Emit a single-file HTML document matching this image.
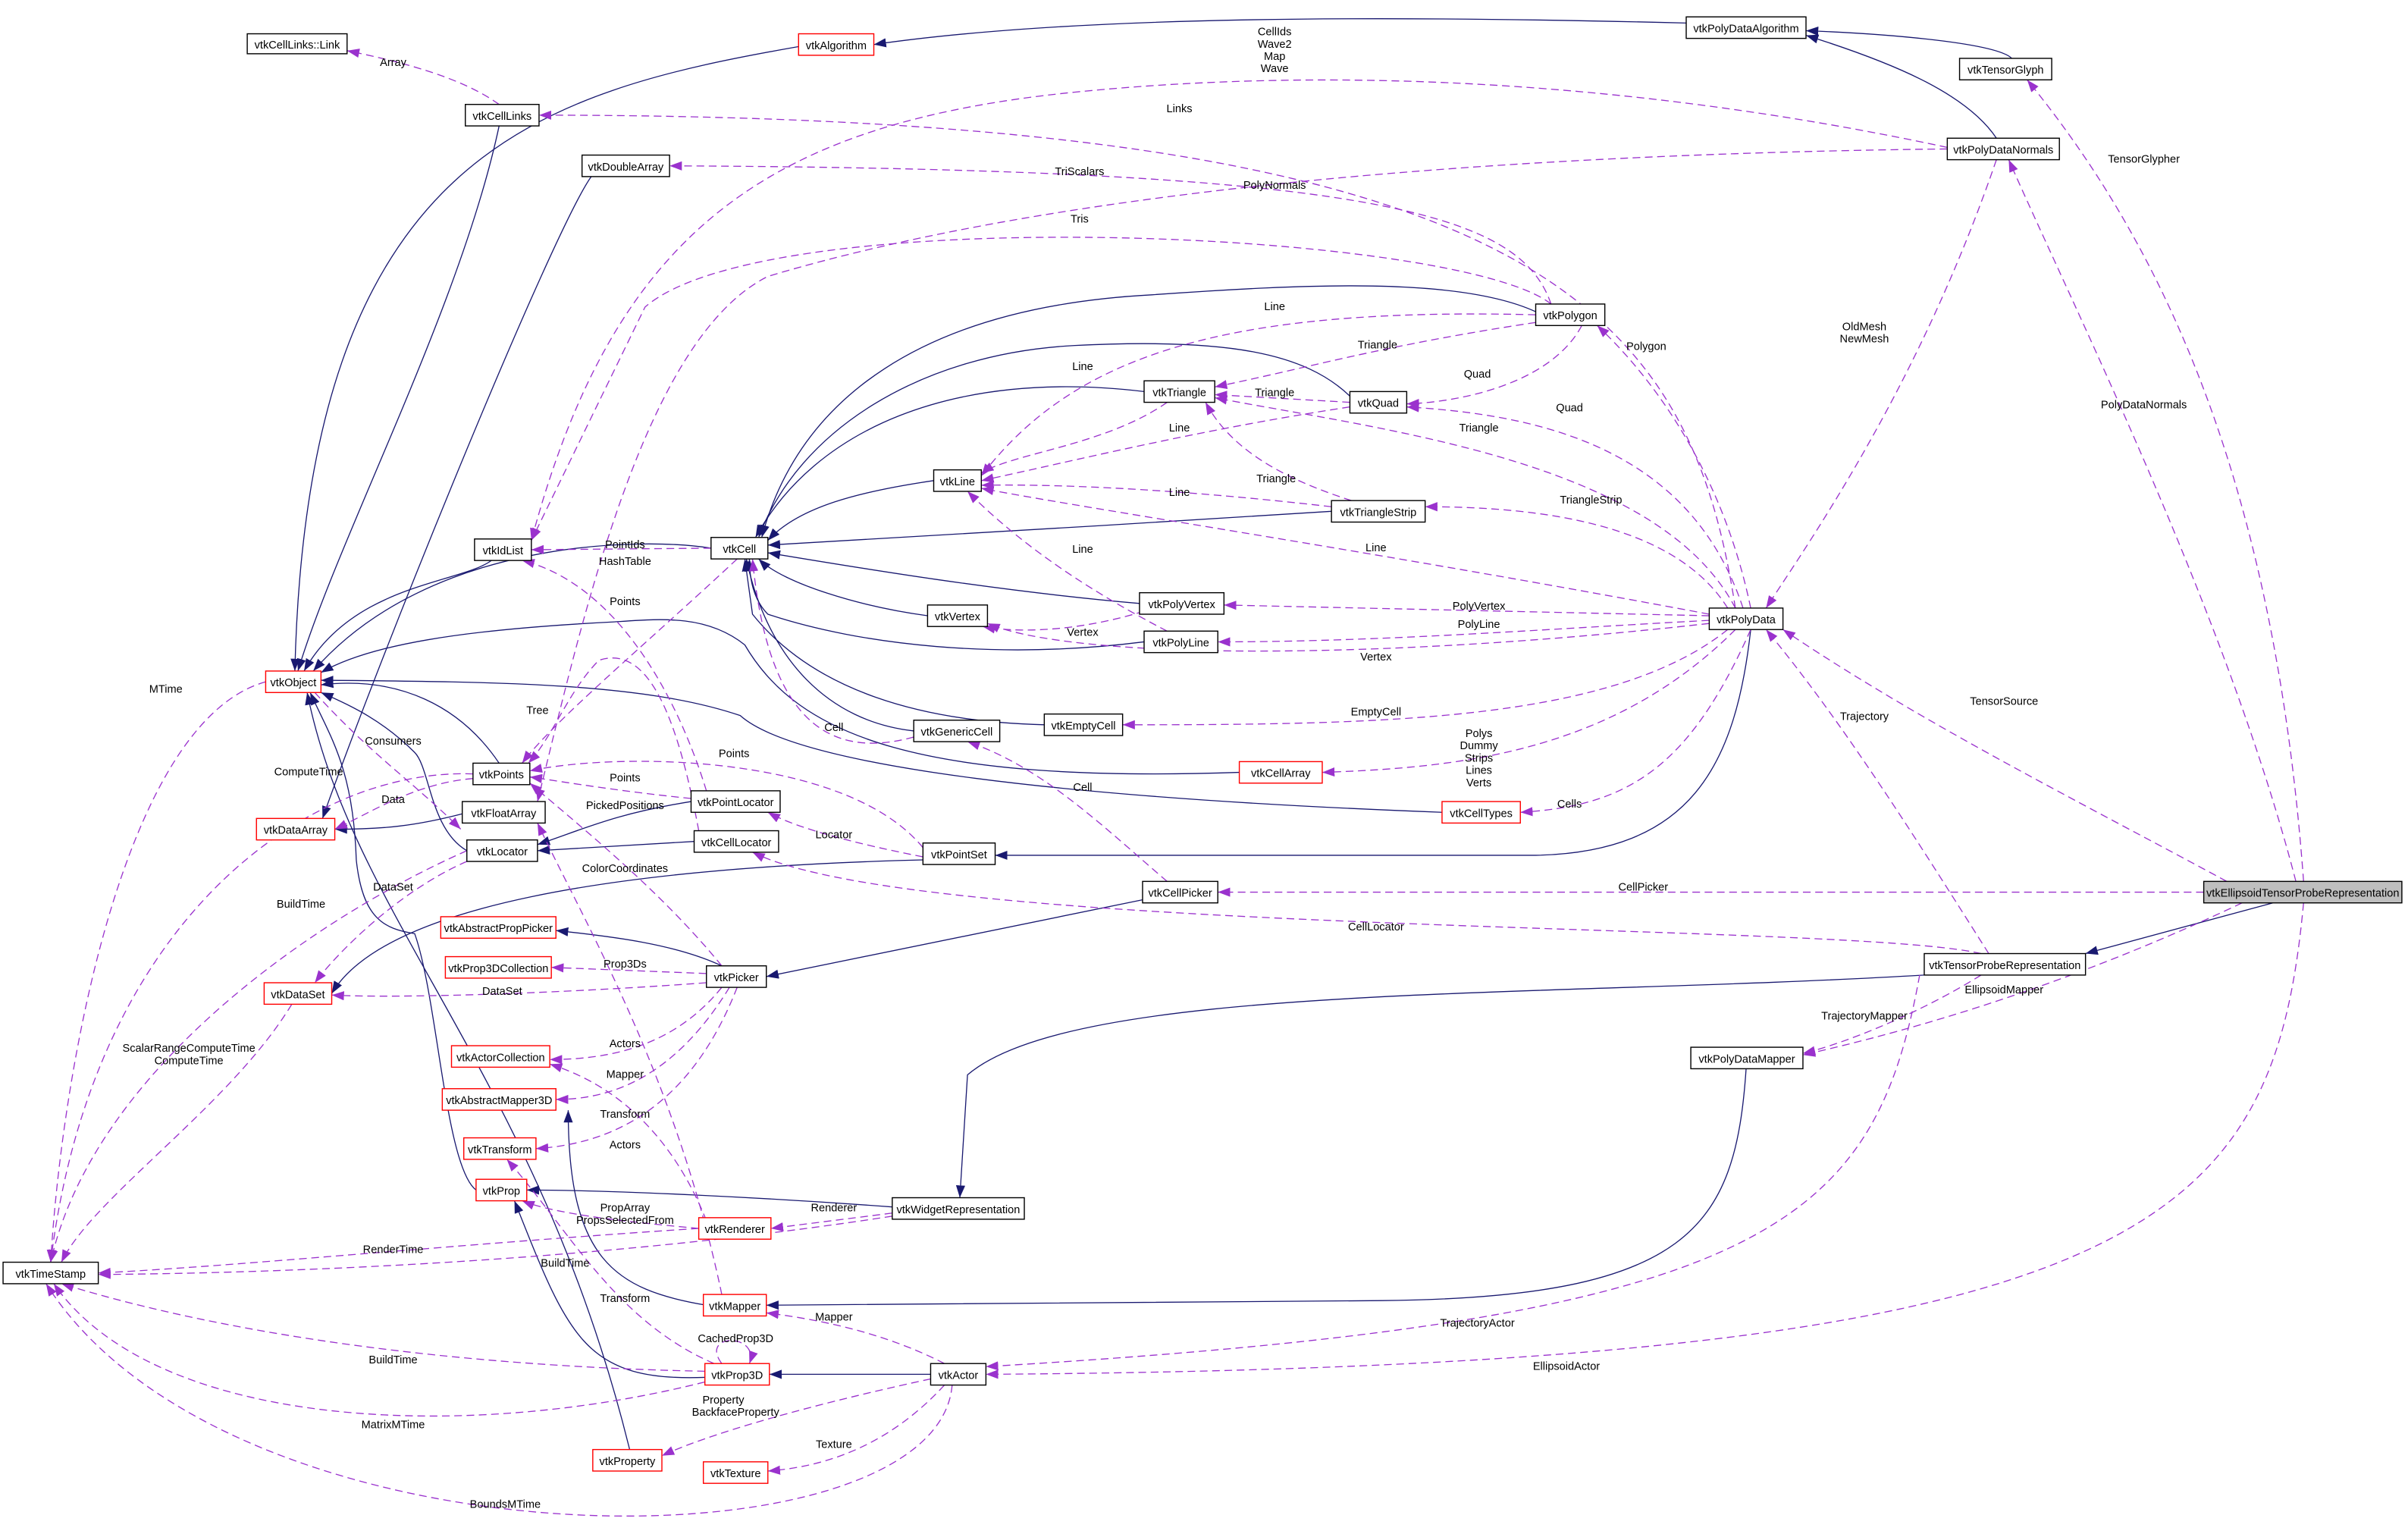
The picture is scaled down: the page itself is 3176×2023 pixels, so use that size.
<!DOCTYPE html>
<html><head><meta charset="utf-8"><style>
html,body{margin:0;padding:0;background:#fff}
svg{display:block}
text{font-family:"Liberation Sans",sans-serif;font-size:7.2px;fill:#000}
.n{fill:#fff;stroke:#000;stroke-width:0.7}
.r{fill:#fff;stroke:#f00;stroke-width:0.7}
.g{fill:#bfbfbf;stroke:#000;stroke-width:0.7}
.i{fill:none;stroke:#191970;stroke-width:0.65;marker-end:url(#ai)}
.u{fill:none;stroke:#9a32cd;stroke-width:0.65;stroke-dasharray:5,3;marker-end:url(#au)}
</style></head><body>
<svg xmlns="http://www.w3.org/2000/svg" width="3176" height="2023" viewBox="0 0 1568 999" preserveAspectRatio="none">
<defs>
<marker id="ai" markerUnits="userSpaceOnUse" markerWidth="9" markerHeight="7" refX="8" refY="3" orient="auto"><path d="M0,0 L8,3 L0,6 z" fill="#191970"/></marker>
<marker id="au" markerUnits="userSpaceOnUse" markerWidth="9" markerHeight="7" refX="8" refY="3" orient="auto"><path d="M0,0 L8,3 L0,6 z" fill="#9a32cd"/></marker>
</defs>
<rect width="1568" height="999" fill="#fff"/>
<!-- inheritance -->
<path class="i" d="M1098,15 C900,10 700,10 569,29"/>
<path class="i" d="M1310,38 C1300,28 1230,22 1176,20"/>
<path class="i" d="M1300,90 C1280,60 1230,40 1176,23"/>
<path class="i" d="M522,30 C350,60 200,100 192,437"/>
<path class="i" d="M325,82 C300,200 220,350 194,437"/>
<path class="i" d="M385,115 C360,150 250,420 210,533"/>
<path class="i" d="M320,365 C300,380 230,380 198,437"/>
<path class="i" d="M463,357 C420,350 280,350 204,437"/>
<path class="i" d="M325,497 C300,460 260,440 209,446"/>
<path class="i" d="M304,554 C280,540 280,500 270,490 C250,470 230,460 209,451"/>
<path class="i" d="M807,503 C600,510 520,480 485,420 C460,400 430,403 400,405 C300,410 240,420 209,438"/>
<path class="i" d="M939,529 C700,520 520,500 482,466 C420,445 330,444 209,443"/>
<path class="i" d="M310,775 C290,760 285,650 270,608 C250,605 236,598 232,560 C230,500 215,480 202,451"/>
<path class="i" d="M410,944 C350,700 230,600 200,451"/>
<path class="i" d="M301,530 C270,538 250,540 218,540"/>
<path class="i" d="M450,522 C400,530 380,540 350,550"/>
<path class="i" d="M452,548 L350,554"/>
<path class="i" d="M745,255 C620,240 530,280 492,350"/>
<path class="i" d="M879,258 C850,230 800,220 700,225 C600,230 520,280 494,350"/>
<path class="i" d="M1000,203 C950,180 850,185 750,192 C600,200 520,260 496,350"/>
<path class="i" d="M608,313 C560,320 520,330 500,352"/>
<path class="i" d="M867,333 C750,340 600,350 500,355"/>
<path class="i" d="M742,393 C650,385 560,370 500,360"/>
<path class="i" d="M604,401 C560,395 510,380 494,364"/>
<path class="i" d="M745,418 C650,430 560,420 500,400 C490,390 488,375 488,364"/>
<path class="i" d="M595,476 C540,470 500,430 486,364"/>
<path class="i" d="M680,472 C600,470 530,450 490,400 L485,364"/>
<path class="i" d="M1140,410 C1130,500 1100,555 1000,557 L648,557"/>
<path class="i" d="M601,560 C400,565 250,590 216,647"/>
<path class="i" d="M744,586 L499,636"/>
<path class="i" d="M470,629 C440,615 400,610 362,606"/>
<path class="i" d="M1480,588 L1358,621"/>
<path class="i" d="M1253,635 C1000,650 700,640 630,700 L625,780"/>
<path class="i" d="M581,786 C500,780 400,775 343,775"/>
<path class="i" d="M460,850 C400,840 370,820 370,723"/>
<path class="i" d="M459,897 C380,900 370,870 335,782"/>
<path class="i" d="M606,895 L501,895"/>
<path class="i" d="M1137,696 C1130,800 1100,845 900,847 L499,850"/>
<!-- usage -->
<path class="u" d="M325,68 C300,50 260,40 226,33"/>
<path class="u" d="M1268,96 C1100,60 900,40 700,60 C500,80 400,150 346,352"/>
<path class="u" d="M1130,396 C1100,200 1000,75 351,75"/>
<path class="u" d="M1010,198 C990,140 900,110 436,108"/>
<path class="u" d="M1268,97 C1000,100 700,120 500,180 C420,220 380,400 350,522"/>
<path class="u" d="M1010,198 C950,150 500,130 420,200 L346,352"/>
<path class="u" d="M1000,205 C800,200 700,230 639,310"/>
<path class="u" d="M1000,210 C900,225 850,240 791,252"/>
<path class="u" d="M1030,212 C1010,250 950,262 916,263"/>
<path class="u" d="M879,262 L791,257"/>
<path class="u" d="M879,265 C780,280 700,300 639,313"/>
<path class="u" d="M760,262 C720,290 660,295 639,308"/>
<path class="u" d="M880,326 C830,310 800,290 785,262"/>
<path class="u" d="M867,330 C780,320 700,315 639,316"/>
<path class="u" d="M760,411 C700,380 660,350 630,320"/>
<path class="u" d="M745,398 C700,412 660,412 640,408"/>
<path class="u" d="M463,357 L346,358"/>
<path class="u" d="M480,364 C420,420 360,470 340,497"/>
<path class="u" d="M460,515 C440,450 400,380 340,365"/>
<path class="u" d="M1140,396 C1120,300 1070,240 1040,212"/>
<path class="u" d="M1135,396 C1100,290 1000,270 916,265"/>
<path class="u" d="M1130,396 C1080,300 900,280 791,259"/>
<path class="u" d="M1125,396 C1090,340 1000,330 928,330"/>
<path class="u" d="M1113,400 C900,360 700,330 639,318"/>
<path class="u" d="M1113,401 L797,394"/>
<path class="u" d="M1113,404 C1000,410 900,418 793,418"/>
<path class="u" d="M1113,406 C900,430 700,430 643,406"/>
<path class="u" d="M1125,410 C1050,470 900,472 731,472"/>
<path class="u" d="M1130,410 C1050,490 950,500 861,503"/>
<path class="u" d="M1140,410 C1100,500 1060,525 990,529"/>
<path class="u" d="M1300,104 C1250,250 1180,350 1150,396"/>
<path class="u" d="M1500,574 C1480,300 1400,150 1320,52"/>
<path class="u" d="M1495,574 C1450,400 1350,200 1308,104"/>
<path class="u" d="M1450,574 C1350,520 1250,470 1161,410"/>
<path class="u" d="M1435,581 L793,581"/>
<path class="u" d="M1460,588 C1350,640 1250,670 1174,687"/>
<path class="u" d="M1500,588 C1480,800 1400,890 642,895"/>
<path class="u" d="M1295,621 C1250,550 1200,470 1150,410"/>
<path class="u" d="M1290,621 C1200,600 600,610 490,555"/>
<path class="u" d="M1290,635 C1250,660 1200,680 1174,686"/>
<path class="u" d="M1250,635 C1220,800 1150,860 642,890"/>
<path class="u" d="M595,480 C540,495 500,470 490,364"/>
<path class="u" d="M760,574 C720,540 680,500 630,483"/>
<path class="u" d="M601,552 C550,490 400,490 345,502"/>
<path class="u" d="M450,520 C400,515 360,508 345,506"/>
<path class="u" d="M601,558 C560,550 520,540 500,529"/>
<path class="u" d="M470,629 C430,580 380,540 345,510"/>
<path class="u" d="M470,843 C440,700 380,600 350,536"/>
<path class="u" d="M455,541 C440,460 420,420 390,430 C370,450 360,480 344,497"/>
<path class="u" d="M304,561 C260,580 220,620 205,640"/>
<path class="u" d="M308,507 C270,510 240,530 218,540"/>
<path class="u" d="M173,444 C80,470 40,700 33,822"/>
<path class="u" d="M308,504 C200,500 60,600 33,822"/>
<path class="u" d="M304,554 C200,600 60,700 33,822"/>
<path class="u" d="M190,654 C150,720 60,780 40,822"/>
<path class="u" d="M205,451 C240,490 270,510 300,540"/>
<path class="u" d="M455,800 C300,810 150,825 64,829"/>
<path class="u" d="M581,792 C400,820 200,829 64,830"/>
<path class="u" d="M459,893 C300,890 150,870 40,836"/>
<path class="u" d="M459,900 C300,940 100,930 35,836"/>
<path class="u" d="M620,902 C610,1025 150,1025 30,836"/>
<path class="u" d="M460,634 L359,630"/>
<path class="u" d="M460,640 C350,648 250,650 216,648"/>
<path class="u" d="M470,643 C440,680 400,690 358,690"/>
<path class="u" d="M475,643 C440,700 400,716 362,716"/>
<path class="u" d="M480,643 C450,720 400,745 349,748"/>
<path class="u" d="M460,795 C430,720 380,700 358,693"/>
<path class="u" d="M455,800 C400,795 360,790 340,782"/>
<path class="u" d="M581,790 L502,800"/>
<path class="u" d="M615,888 C580,870 540,860 499,855"/>
<path class="u" d="M465,888 C400,860 370,800 330,755"/>
<path class="u" d="M470,888 C455,868 495,868 488,888"/>
<path class="u" d="M606,898 C550,910 470,930 431,948"/>
<path class="u" d="M615,902 C580,940 540,955 500,958"/>
<!-- nodes -->
<g>
<rect class="n" x="161" y="22" width="65" height="13"/><text x="193.5" y="31.5" text-anchor="middle">vtkCellLinks::Link</text>
<rect class="r" x="520" y="22" width="49" height="14"/><text x="544.5" y="32" text-anchor="middle">vtkAlgorithm</text>
<rect class="n" x="1098" y="11" width="78" height="14"/><text x="1137" y="21" text-anchor="middle">vtkPolyDataAlgorithm</text>
<rect class="n" x="1276" y="38" width="60" height="14"/><text x="1306" y="48" text-anchor="middle">vtkTensorGlyph</text>
<rect class="n" x="303" y="68" width="48" height="14"/><text x="327" y="78" text-anchor="middle">vtkCellLinks</text>
<rect class="n" x="1268" y="90" width="73" height="14"/><text x="1304.5" y="100" text-anchor="middle">vtkPolyDataNormals</text>
<rect class="n" x="379" y="101" width="57" height="14"/><text x="407.5" y="111" text-anchor="middle">vtkDoubleArray</text>
<rect class="n" x="1000" y="198" width="45" height="14"/><text x="1022.5" y="208" text-anchor="middle">vtkPolygon</text>
<rect class="n" x="745" y="248" width="46" height="14"/><text x="768" y="258" text-anchor="middle">vtkTriangle</text>
<rect class="n" x="879" y="255" width="37" height="14"/><text x="897.5" y="265" text-anchor="middle">vtkQuad</text>
<rect class="n" x="608" y="306" width="31" height="14"/><text x="623.5" y="316" text-anchor="middle">vtkLine</text>
<rect class="n" x="867" y="326" width="61" height="14"/><text x="897.5" y="336" text-anchor="middle">vtkTriangleStrip</text>
<rect class="n" x="309" y="351" width="37" height="14"/><text x="327.5" y="361" text-anchor="middle">vtkIdList</text>
<rect class="n" x="463" y="350" width="37" height="14"/><text x="481.5" y="360" text-anchor="middle">vtkCell</text>
<rect class="n" x="742" y="386" width="55" height="14"/><text x="769.5" y="396" text-anchor="middle">vtkPolyVertex</text>
<rect class="n" x="1113" y="396" width="48" height="14"/><text x="1137" y="406" text-anchor="middle">vtkPolyData</text>
<rect class="n" x="604" y="394" width="39" height="14"/><text x="623.5" y="404" text-anchor="middle">vtkVertex</text>
<rect class="n" x="745" y="411" width="48" height="14"/><text x="769" y="421" text-anchor="middle">vtkPolyLine</text>
<rect class="r" x="173" y="437" width="36" height="14"/><text x="191" y="447" text-anchor="middle">vtkObject</text>
<rect class="n" x="595" y="469" width="56" height="14"/><text x="623" y="479" text-anchor="middle">vtkGenericCell</text>
<rect class="n" x="680" y="465" width="51" height="14"/><text x="705.5" y="475" text-anchor="middle">vtkEmptyCell</text>
<rect class="r" x="807" y="496" width="54" height="14"/><text x="834" y="506" text-anchor="middle">vtkCellArray</text>
<rect class="n" x="308" y="497" width="37" height="14"/><text x="326.5" y="507" text-anchor="middle">vtkPoints</text>
<rect class="n" x="450" y="515" width="58" height="14"/><text x="479" y="525" text-anchor="middle">vtkPointLocator</text>
<rect class="n" x="301" y="522" width="54" height="14"/><text x="328" y="532" text-anchor="middle">vtkFloatArray</text>
<rect class="r" x="939" y="522" width="51" height="14"/><text x="964.5" y="532" text-anchor="middle">vtkCellTypes</text>
<rect class="r" x="167" y="533" width="51" height="14"/><text x="192.5" y="543" text-anchor="middle">vtkDataArray</text>
<rect class="n" x="304" y="547" width="46" height="14"/><text x="327" y="557" text-anchor="middle">vtkLocator</text>
<rect class="n" x="452" y="541" width="55" height="14"/><text x="479.5" y="551" text-anchor="middle">vtkCellLocator</text>
<rect class="n" x="601" y="549" width="47" height="14"/><text x="624.5" y="559" text-anchor="middle">vtkPointSet</text>
<rect class="n" x="744" y="574" width="49" height="14"/><text x="768.5" y="584" text-anchor="middle">vtkCellPicker</text>
<rect class="g" x="1435" y="574" width="129" height="14"/><text x="1499.5" y="584" text-anchor="middle">vtkEllipsoidTensorProbeRepresentation</text>
<rect class="r" x="287" y="597" width="75" height="14"/><text x="324.5" y="607" text-anchor="middle">vtkAbstractPropPicker</text>
<rect class="r" x="290" y="623" width="69" height="14"/><text x="324.5" y="633" text-anchor="middle">vtkProp3DCollection</text>
<rect class="n" x="1253" y="621" width="105" height="14"/><text x="1305.5" y="631" text-anchor="middle">vtkTensorProbeRepresentation</text>
<rect class="n" x="460" y="629" width="39" height="14"/><text x="479.5" y="639" text-anchor="middle">vtkPicker</text>
<rect class="r" x="172" y="640" width="44" height="14"/><text x="194" y="650" text-anchor="middle">vtkDataSet</text>
<rect class="r" x="294" y="681" width="64" height="14"/><text x="326" y="691" text-anchor="middle">vtkActorCollection</text>
<rect class="n" x="1101" y="682" width="73" height="14"/><text x="1137.5" y="692" text-anchor="middle">vtkPolyDataMapper</text>
<rect class="r" x="288" y="709" width="74" height="14"/><text x="325" y="719" text-anchor="middle">vtkAbstractMapper3D</text>
<rect class="r" x="302" y="741" width="47" height="14"/><text x="325.5" y="751" text-anchor="middle">vtkTransform</text>
<rect class="r" x="310" y="768" width="33" height="14"/><text x="326.5" y="778" text-anchor="middle">vtkProp</text>
<rect class="n" x="581" y="780" width="86" height="14"/><text x="624" y="790" text-anchor="middle">vtkWidgetRepresentation</text>
<rect class="r" x="455" y="793" width="47" height="14"/><text x="478.5" y="803" text-anchor="middle">vtkRenderer</text>
<rect class="n" x="2" y="822" width="62" height="14"/><text x="33" y="832" text-anchor="middle">vtkTimeStamp</text>
<rect class="r" x="458" y="843" width="41" height="14"/><text x="478.5" y="853" text-anchor="middle">vtkMapper</text>
<rect class="n" x="606" y="888" width="36" height="14"/><text x="624" y="898" text-anchor="middle">vtkActor</text>
<rect class="r" x="459" y="888" width="42" height="14"/><text x="480" y="898" text-anchor="middle">vtkProp3D</text>
<rect class="r" x="386" y="944" width="45" height="14"/><text x="408.5" y="954" text-anchor="middle">vtkProperty</text>
<rect class="r" x="458" y="952" width="42" height="14"/><text x="479" y="962" text-anchor="middle">vtkTexture</text>
</g>
<!-- labels -->
<g text-anchor="middle">
<text x="256" y="43">Array</text>
<text x="830" y="23">CellIds</text><text x="830" y="31">Wave2</text><text x="830" y="39">Map</text><text x="830" y="47">Wave</text>
<text x="768" y="73">Links</text>
<text x="703" y="114">TriScalars</text>
<text x="830" y="123">PolyNormals</text>
<text x="703" y="145">Tris</text>
<text x="830" y="202">Line</text>
<text x="897" y="227">Triangle</text>
<text x="962" y="246">Quad</text>
<text x="830" y="258">Triangle</text>
<text x="705" y="241">Line</text>
<text x="768" y="281">Line</text>
<text x="831" y="314">Triangle</text>
<text x="768" y="323">Line</text>
<text x="705" y="360">Line</text>
<text x="705" y="414">Vertex</text>
<text x="407" y="357">PointIds</text>
<text x="407" y="368">HashTable</text>
<text x="407" y="394">Points</text>
<text x="1072" y="228">Polygon</text>
<text x="1022" y="268">Quad</text>
<text x="963" y="281">Triangle</text>
<text x="1036" y="328">TriangleStrip</text>
<text x="896" y="359">Line</text>
<text x="963" y="397">PolyVertex</text>
<text x="963" y="409">PolyLine</text>
<text x="896" y="430">Vertex</text>
<text x="896" y="466">EmptyCell</text>
<text x="963" y="480">Polys</text><text x="963" y="488">Dummy</text><text x="963" y="496">Strips</text><text x="963" y="504">Lines</text><text x="963" y="512">Verts</text>
<text x="1022" y="526">Cells</text>
<text x="1214" y="215">OldMesh</text><text x="1214" y="223">NewMesh</text>
<text x="1396" y="106">TensorGlypher</text>
<text x="1396" y="266">PolyDataNormals</text>
<text x="1305" y="459">TensorSource</text>
<text x="1214" y="469">Trajectory</text>
<text x="1070" y="580">CellPicker</text>
<text x="896" y="606">CellLocator</text>
<text x="1305" y="647">EllipsoidMapper</text>
<text x="1214" y="664">TrajectoryMapper</text>
<text x="962" y="864">TrajectoryActor</text>
<text x="1020" y="892">EllipsoidActor</text>
<text x="543" y="476">Cell</text>
<text x="705" y="515">Cell</text>
<text x="478" y="493">Points</text>
<text x="407" y="509">Points</text>
<text x="543" y="546">Locator</text>
<text x="407" y="527">PickedPositions</text>
<text x="407" y="568">ColorCoordinates</text>
<text x="350" y="465">Tree</text>
<text x="256" y="485">Consumers</text>
<text x="256" y="523">Data</text>
<text x="256" y="580">DataSet</text>
<text x="108" y="451">MTime</text>
<text x="201" y="505">ComputeTime</text>
<text x="196" y="591">BuildTime</text>
<text x="123" y="685">ScalarRangeComputeTime</text><text x="123" y="693">ComputeTime</text>
<text x="407" y="630">Prop3Ds</text>
<text x="327" y="648">DataSet</text>
<text x="407" y="682">Actors</text>
<text x="407" y="702">Mapper</text>
<text x="407" y="728">Transform</text>
<text x="407" y="748">Actors</text>
<text x="407" y="789">PropArray</text><text x="407" y="797">PropsSelectedFrom</text>
<text x="543" y="789">Renderer</text>
<text x="256" y="816">RenderTime</text>
<text x="368" y="825">BuildTime</text>
<text x="543" y="860">Mapper</text>
<text x="407" y="848">Transform</text>
<text x="479" y="874">CachedProp3D</text>
<text x="256" y="888">BuildTime</text>
<text x="256" y="930">MatrixMTime</text>
<text x="471" y="914">Property</text><text x="479" y="922">BackfaceProperty</text>
<text x="543" y="943">Texture</text>
<text x="329" y="982">BoundsMTime</text>
</g>
</svg>
</body></html>
